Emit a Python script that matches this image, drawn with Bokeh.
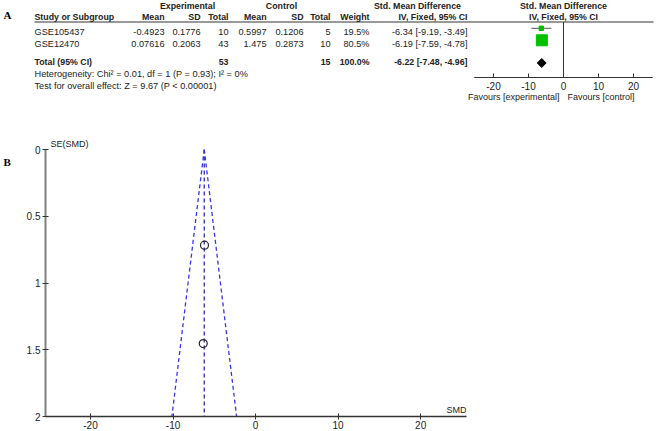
import numpy as np
from bokeh.plotting import figure
from bokeh.models import Range1d, FixedTicker, Label
from bokeh.layouts import column, row
from bokeh.embed import file_html
from bokeh.resources import INLINE
from bokeh.core.properties import value

# ---------------- data ----------------
studies = ["GSE105437", "GSE12470"]
exp_mean = [-0.4923, 0.07616]
exp_sd = [0.1776, 0.2063]
exp_n = [10, 43]
ctl_mean = [0.5997, 1.475]
ctl_sd = [0.1206, 0.2873]
ctl_n = [5, 10]
weight = [19.5, 80.5]
smd = [-6.34, -6.19]
ci_lo = [-9.19, -7.59]
ci_hi = [-3.49, -4.78]
total_exp_n = 53
total_ctl_n = 15
total_weight = 100.0
total_smd = -6.22
total_lo = -7.48
total_hi = -4.96
het_chi2 = 0.01
het_df = 1
het_p = 0.93
het_i2 = 0
overall_z = 9.67
overall_p = "P < 0.00001"

forest_ticks = [-20, -10, 0, 10, 20]
forest_tick_labels = ["-20", "-10", "0", "10", "20"]
funnel_x_ticks = [-20, -10, 0, 10, 20]
funnel_x_labels = ["-20", "-10", "0", "10", "20"]
funnel_y_ticks = [0, 0.5, 1, 1.5, 2]
funnel_y_labels = ["0", "0.5", "1", "1.5", "2"]

# ---------------- styles ----------------
FONT = "Liberation Sans"
SERIF = "Liberation Serif"
TXT = "#222222"
GREEN = "#00c000"
BLUE = "#3535e8"
REG = "9.2px"
BOLD = "8.8px"

W = 663
H_TOTAL = 431
H1 = 119

# ---------------- panel A: forest table ----------------
top = figure(width=W, height=H1, x_range=Range1d(0, W), y_range=Range1d(H1, 0),
             output_backend="svg", toolbar_location=None, min_border=0,
             x_axis_location=None, y_axis_location=None, sizing_mode="fixed")
top.grid.visible = False
top.outline_line_color = None
ZERO_PX = 563.0
PX_PER = 3.5
top.extra_x_ranges = {"smd": Range1d(-ZERO_PX / PX_PER, (W - ZERO_PX) / PX_PER)}


def txt(fig, x, y, s, align="left", bold=False, size=None, font=FONT, color=TXT, rng="default"):
    if size is None:
        size = BOLD if bold else REG
    fig.text(x=[x], y=[y], text=[s], text_align=align, text_baseline="middle",
             text_font=value(font), text_font_size=size,
             text_font_style="bold" if bold else "normal",
             text_color=color, x_range_name=rng)


name_x = 34
col_r = dict(em=164, es=200, en=228, cm=266, cs=303, cn=330, w=369, smd=467)
y_h1, y_h2 = 5.5, 16
row_y = [31, 43]
y_tot, y_het, y_test = 61, 73, 85
axis_y = 77

txt(top, 3, 14, "A", bold=True, size="11px", font=SERIF, color="#000")

txt(top, 187, y_h1, "Experimental", align="center", bold=True)
txt(top, 281, y_h1, "Control", align="center", bold=True)
txt(top, 417, y_h1, "Std. Mean Difference", align="center", bold=True)
txt(top, ZERO_PX, y_h1, "Std. Mean Difference", align="center", bold=True)

txt(top, name_x, y_h2, "Study or Subgroup", bold=True)
txt(top, col_r["em"], y_h2, "Mean", align="right", bold=True)
txt(top, col_r["es"], y_h2, "SD", align="right", bold=True)
txt(top, col_r["en"], y_h2, "Total", align="right", bold=True)
txt(top, col_r["cm"], y_h2, "Mean", align="right", bold=True)
txt(top, col_r["cs"], y_h2, "SD", align="right", bold=True)
txt(top, col_r["cn"], y_h2, "Total", align="right", bold=True)
txt(top, col_r["w"], y_h2, "Weight", align="right", bold=True)
txt(top, col_r["smd"], y_h2, "IV, Fixed, 95% CI", align="right", bold=True)
txt(top, ZERO_PX, y_h2, "IV, Fixed, 95% CI", align="center", bold=True)

top.segment(x0=[name_x], y0=[21.5], x1=[653], y1=[21.5], line_color="#333", line_width=1)

for i, s in enumerate(studies):
    y = row_y[i]
    txt(top, name_x, y, s)
    txt(top, col_r["em"], y, str(exp_mean[i]), align="right")
    txt(top, col_r["es"], y, str(exp_sd[i]), align="right")
    txt(top, col_r["en"], y, str(exp_n[i]), align="right")
    txt(top, col_r["cm"], y, str(ctl_mean[i]), align="right")
    txt(top, col_r["cs"], y, str(ctl_sd[i]), align="right")
    txt(top, col_r["cn"], y, str(ctl_n[i]), align="right")
    txt(top, col_r["w"], y, f"{weight[i]:.1f}%", align="right")
    txt(top, col_r["smd"], y, f"{smd[i]:.2f} [{ci_lo[i]:.2f}, {ci_hi[i]:.2f}]", align="right")

txt(top, name_x, y_tot, "Total (95% CI)", bold=True)
txt(top, col_r["en"], y_tot, str(total_exp_n), align="right", bold=True)
txt(top, col_r["cn"], y_tot, str(total_ctl_n), align="right", bold=True)
txt(top, col_r["w"], y_tot, f"{total_weight:.1f}%", align="right", bold=True)
txt(top, col_r["smd"], y_tot, f"{total_smd:.2f} [{total_lo:.2f}, {total_hi:.2f}]", align="right", bold=True)
txt(top, name_x, y_het, f"Heterogeneity: Chi\u00b2 = {het_chi2:.2f}, df = {het_df} (P = {het_p:.2f}); I\u00b2 = {het_i2}%")
txt(top, name_x, y_test, f"Test for overall effect: Z = {overall_z:.2f} ({overall_p})")

# forest graphics (smd range)
mark_y = [y - 3.2 for y in row_y]
top.segment(x0=ci_lo, y0=mark_y, x1=ci_hi, y1=mark_y, line_color="#555", line_width=1,
            x_range_name="smd")
sizes = [11.0 * (w / max(weight)) ** 0.65 for w in weight]
top.scatter(x=smd, y=mark_y, size=sizes, marker="square", fill_color=GREEN,
            line_color=GREEN, x_range_name="smd")
dy = 4.5
top.patch(x=[total_lo, total_smd, total_hi, total_smd],
          y=[y_tot + 1.5, y_tot + 1.5 - dy, y_tot + 1.5, y_tot + 1.5 + dy],
          fill_color="black", line_color="black", x_range_name="smd")
top.segment(x0=[0], y0=[21.5], x1=[0], y1=[axis_y], line_color="#333", line_width=1,
            x_range_name="smd")
top.segment(x0=[-25.5], y0=[axis_y], x1=[25.5], y1=[axis_y], line_color="#333",
            line_width=1, x_range_name="smd")
top.segment(x0=forest_ticks, y0=[axis_y - 4] * len(forest_ticks), x1=forest_ticks,
            y1=[axis_y] * len(forest_ticks), line_color="#333", line_width=1,
            x_range_name="smd")
top.text(x=forest_ticks, y=[85] * len(forest_ticks), text=forest_tick_labels,
         text_align="center", text_baseline="middle", text_font=value(FONT),
         text_font_size="10px", text_color=TXT, x_range_name="smd")
top.text(x=[0, 0], y=[96, 96], text=["Favours [experimental]", "Favours [control]"],
         text_align=["right", "left"], text_baseline="middle", text_font=value(FONT),
         text_font_size="9px", text_color=TXT, x_offset=[-4, 4], x_range_name="smd")

# ---------------- panel B: funnel plot ----------------
H2 = H_TOTAL - H1
STRIP_W = 20
FRAME_TOP_PAGE = 149
FRAME_H = 268
FRAME_W = 421
B_TOP = FRAME_TOP_PAGE - H1
B_BOTTOM = H2 - B_TOP - FRAME_H

# narrow strip holding the panel letter; its frame is aligned with the funnel frame
strip = figure(width=STRIP_W, height=H2, x_range=Range1d(0, STRIP_W),
               y_range=Range1d(FRAME_TOP_PAGE + FRAME_H, FRAME_TOP_PAGE),
               output_backend="svg", toolbar_location=None, min_border=0,
               x_axis_location=None, y_axis_location=None, sizing_mode="fixed")
strip.grid.visible = False
strip.outline_line_color = None
txt(strip, 3, 162, "B", bold=True, size="11px", font=SERIF, color="#000")

se = [(h - l) / (2 * 1.96) for l, h in zip(ci_lo, ci_hi)]
se_max = funnel_y_ticks[-1]

FUN_W = W - STRIP_W
fun = figure(width=FUN_W, height=H2,
             x_range=Range1d(-25.45, 25.55), y_range=Range1d(se_max, 0),
             min_border_left=45 - STRIP_W, min_border_right=FUN_W - (45 - STRIP_W) - FRAME_W,
             min_border_top=B_TOP, min_border_bottom=B_BOTTOM,
             output_backend="svg", toolbar_location=None, sizing_mode="fixed")
fun.grid.visible = False
fun.outline_line_color = None
fun.title.text = "SE(SMD)"
fun.title.align = "left"
fun.title.offset = 5
fun.title.standoff = 1
fun.title.text_font = FONT
fun.title.text_font_size = "9px"
fun.title.text_font_style = "normal"
fun.title.text_color = TXT

fun.xaxis.ticker = FixedTicker(ticks=funnel_x_ticks)
fun.xaxis.major_label_overrides = {t: l for t, l in zip(funnel_x_ticks, funnel_x_labels)}
fun.yaxis.ticker = FixedTicker(ticks=funnel_y_ticks)
fun.yaxis.major_label_overrides = {t: l for t, l in zip(funnel_y_ticks, funnel_y_labels)}
for ax in (fun.xaxis, fun.yaxis):
    ax.minor_tick_line_color = None
    ax.major_tick_in = 3
    ax.major_tick_out = 3
    ax.major_tick_line_color = "#333"
    ax.major_label_text_font = FONT
    ax.major_label_text_font_size = "10px"
    ax.major_label_text_color = TXT
    ax.major_label_standoff = 2
fun.xaxis.major_label_standoff = 1
fun.xaxis.axis_line_color = "#333"
fun.xaxis.axis_line_width = 1.5
fun.yaxis.axis_line_color = "#808080"
fun.yaxis.axis_line_width = 2

z95 = 1.96
fun.segment(x0=[total_smd, total_smd, total_smd], y0=[0, 0, 0],
            x1=[total_smd - z95 * se_max, total_smd, total_smd + z95 * se_max],
            y1=[se_max, se_max, se_max], line_color=[BLUE, "#2a2ab8", BLUE],
            line_dash="4 3", line_width=1.3)
fun.scatter(x=smd, y=se, size=8, marker="circle", fill_color=None,
            line_color="#222", line_width=1.2)

fun.add_layout(Label(x=25.55, y=se_max, y_offset=2, text="SMD", text_align="right",
                     text_baseline="bottom", text_font=FONT, text_font_size="9px",
                     text_color=TXT))

layout = column(top, row(strip, fun, spacing=0), spacing=0)
open("out.html", "w").write(file_html(layout, INLINE))
